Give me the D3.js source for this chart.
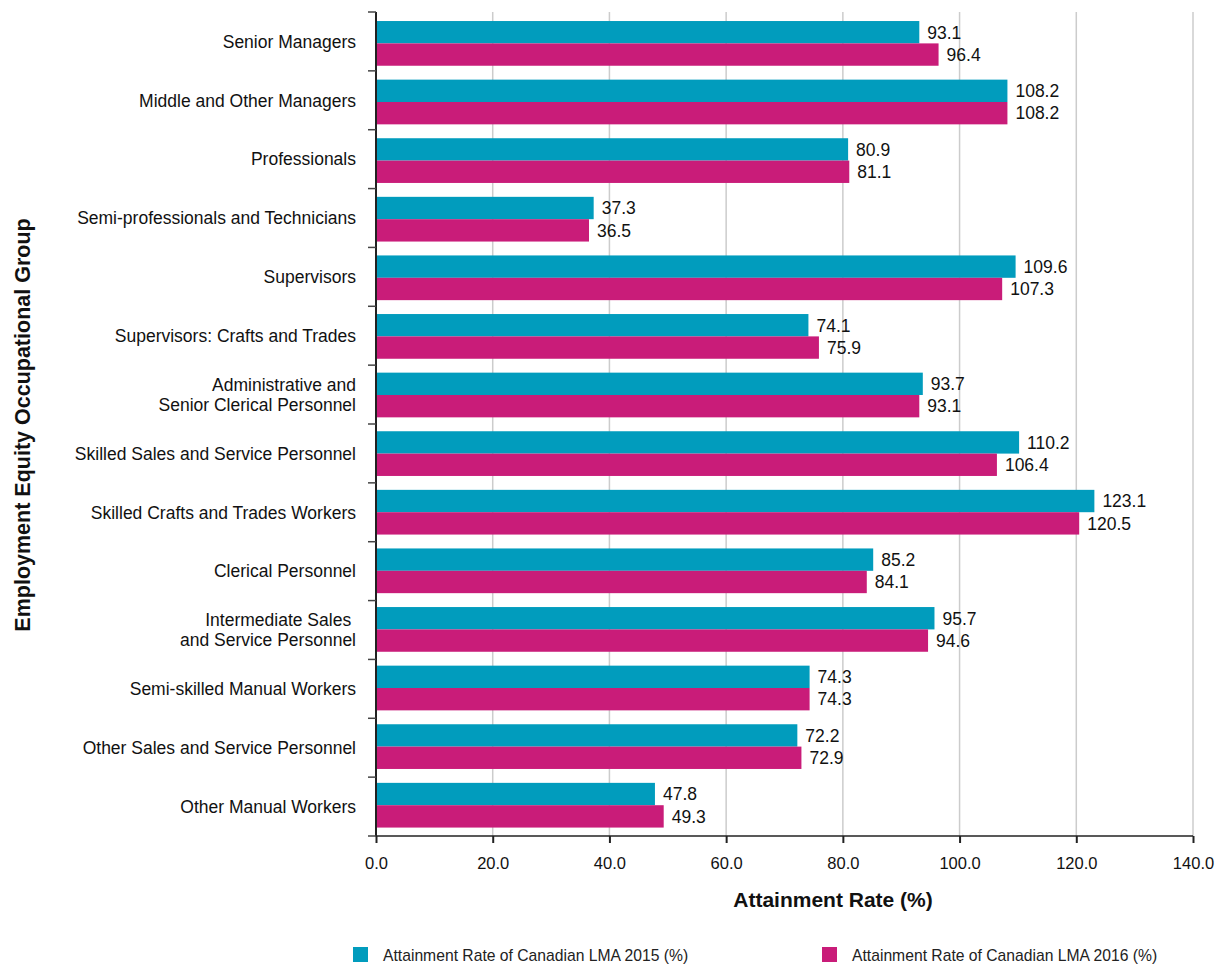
<!DOCTYPE html>
<html>
<head>
<meta charset="utf-8">
<script src="https://cdn.jsdelivr.net/npm/d3@7"></script>
<style>
  html, body { margin: 0; padding: 0; background: #fff; }
  svg { display: block; font-family: "Liberation Sans", Arial, Helvetica, sans-serif; }
</style>
</head>
<body>
<svg id="chart" width="1227" height="966"></svg>
<script>
// Occupational groups (multi-line labels split with "\n")
const categories = [
  "Senior Managers",
  "Middle and Other Managers",
  "Professionals",
  "Semi-professionals and Technicians",
  "Supervisors",
  "Supervisors: Crafts and Trades",
  "Administrative and\nSenior Clerical Personnel",
  "Skilled Sales and Service Personnel",
  "Skilled Crafts and Trades Workers",
  "Clerical Personnel",
  "Intermediate Sales \nand Service Personnel",
  "Semi-skilled Manual Workers",
  "Other Sales and Service Personnel",
  "Other Manual Workers"
];
const rate2015 = [93.1, 108.2, 80.9, 37.3, 109.6, 74.1, 93.7, 110.2, 123.1, 85.2, 95.7, 74.3, 72.2, 47.8];
const rate2016 = [96.4, 108.2, 81.1, 36.5, 107.3, 75.9, 93.1, 106.4, 120.5, 84.1, 94.6, 74.3, 72.9, 49.3];
const seriesNames = ["Attainment Rate of Canadian LMA 2015 (%)", "Attainment Rate of Canadian LMA 2016 (%)"];
const xTicks = [0, 20, 40, 60, 80, 100, 120, 140];

const colors = ["#019cbd", "#c91c79"];
const svg = d3.select("#chart");

const plotL = 376, plotR = 1193, plotT = 12, plotB = 836;

const x = d3.scaleLinear().domain([0, 140]).range([plotL, plotR]);
const y = d3.scaleBand().domain(categories).range([14, 834.6]).paddingInner(0.237).paddingOuter(0.12);
const ySub = d3.scaleBand().domain([0, 1]).range([0, y.bandwidth()]);
const yStep = (plotB - plotT) / categories.length;

// vertical gridlines
svg.append("g")
  .selectAll("line")
  .data(xTicks.filter(t => t > 0))
  .join("line")
  .attr("x1", d => x(d)).attr("x2", d => x(d))
  .attr("y1", plotT).attr("y2", plotB)
  .attr("stroke", "#cccccc").attr("stroke-width", 1.5);

// bars
const rows = categories.map((c, i) => ({ c, vals: [rate2015[i], rate2016[i]] }));
const g = svg.append("g").selectAll("g").data(rows).join("g")
  .attr("transform", d => `translate(0,${y(d.c)})`);

g.selectAll("rect").data(d => d.vals).join("rect")
  .attr("x", x(0))
  .attr("y", (d, i) => ySub(i))
  .attr("width", d => x(d) - x(0))
  .attr("height", ySub.bandwidth())
  .attr("fill", (d, i) => colors[i]);

g.selectAll("text.val").data(d => d.vals).join("text")
  .attr("class", "val")
  .attr("x", d => x(d) + 8)
  .attr("y", (d, i) => ySub(i) + ySub.bandwidth() / 2)
  .attr("dy", "0.36em")
  .attr("font-size", 17.5)
  .attr("fill", "#111")
  .text(d => d.toFixed(1));

// y axis with ticks at band boundaries
const yAxisG = svg.append("g");
yAxisG.append("line")
  .attr("x1", plotL).attr("x2", plotL).attr("y1", plotT).attr("y2", plotB)
  .attr("stroke", "#222").attr("stroke-width", 2);
yAxisG.selectAll("line.tick")
  .data(d3.range(categories.length + 1))
  .join("line").attr("class", "tick")
  .attr("x1", plotL - 8).attr("x2", plotL)
  .attr("y1", i => plotT + i * yStep).attr("y2", i => plotT + i * yStep)
  .attr("stroke", "#444").attr("stroke-width", 1.5);

// category labels
const catLabels = yAxisG.selectAll("text.cat").data(categories).join("text")
  .attr("class", "cat")
  .attr("text-anchor", "end")
  .attr("font-size", 17.5)
  .attr("fill", "#111");
catLabels.each(function(d, i) {
  const lines = d.split("\n");
  const cy = plotT + (i + 0.5) * yStep;
  const lh = 20;
  const t = d3.select(this);
  lines.forEach((ln, k) => {
    t.append("tspan")
      .attr("x", plotL - 20)
      .attr("y", cy + (k - (lines.length - 1) / 2) * lh)
      .attr("dy", "0.36em")
      .text(ln);
  });
});

// x axis
const xAxis = d3.axisBottom(x).tickValues(xTicks).tickFormat(d3.format(".1f")).tickSize(7).tickPadding(14);
const xg = svg.append("g").attr("transform", `translate(0,${plotB})`).call(xAxis);
xg.select(".domain").attr("stroke", "#222").attr("stroke-width", 1.5).attr("d", `M${plotL},0H${plotR}`);
xg.selectAll(".tick line").attr("stroke", "#222").attr("stroke-width", 2);
xg.selectAll(".tick text").attr("font-size", 16.5).attr("fill", "#111")
  .attr("font-family", "\"Liberation Sans\", Arial, sans-serif");

// axis titles
svg.append("text")
  .attr("x", 833).attr("y", 907)
  .attr("text-anchor", "middle")
  .attr("font-size", 21).attr("font-weight", "bold").attr("fill", "#111")
  .text("Attainment Rate (%)");

svg.append("text")
  .attr("transform", `translate(30,${(plotT + plotB) / 2 + 1}) rotate(-90)`)
  .attr("text-anchor", "middle")
  .attr("font-size", 21.5).attr("font-weight", "bold").attr("fill", "#111")
  .text("Employment Equity Occupational Group");

// legend
const legendX = [353, 822];
const lg = svg.append("g").selectAll("g").data(seriesNames).join("g")
  .attr("transform", (d, i) => `translate(${legendX[i]},947)`);
lg.append("rect").attr("width", 15).attr("height", 15).attr("fill", (d, i) => colors[i]);
lg.append("text").attr("x", 30).attr("y", 8).attr("dy", "0.36em")
  .attr("font-size", 15.7).attr("fill", "#222").text(d => d);
</script>
</body>
</html>
